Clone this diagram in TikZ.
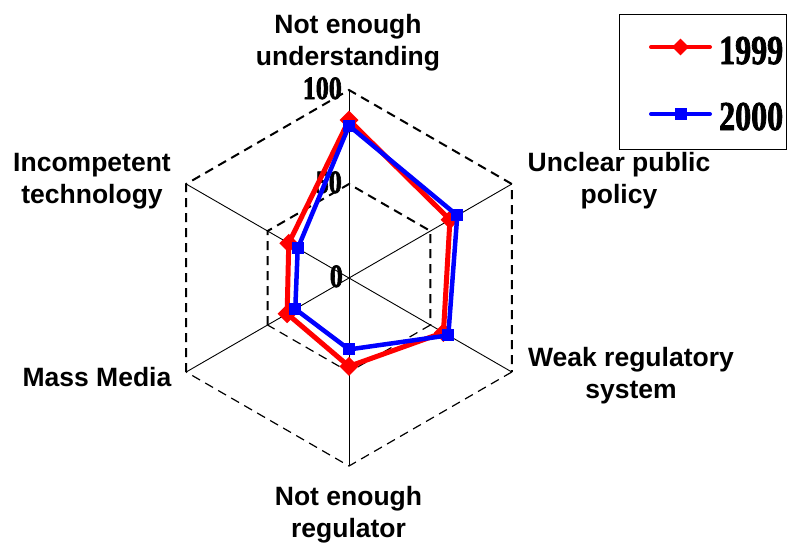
\documentclass[tikz,border=0pt]{standalone}
\usepackage{fontspec}
\usepackage{graphicx}
\setmainfont{Liberation Serif}
\setsansfont{Liberation Sans}
\newfontfamily\numfont[FakeBold=2.2]{Liberation Serif Bold}
\usetikzlibrary{shapes.geometric}
\begin{document}
\begin{tikzpicture}[x=1pt,y=-1pt,
  lab/.style={font=\sffamily\bfseries\fontsize{26.5}{32}\selectfont, align=center, anchor=base, inner sep=0},
  num/.style={font=\numfont\fontsize{32.5}{36}\selectfont, anchor=base east, inner sep=0},
  legtext/.style={font=\numfont\fontsize{41}{44}\selectfont, anchor=base west, inner sep=0},
  spoke/.style={line width=0.9pt},
  gridthick/.style={line width=2pt, dash pattern=on 9pt off 6pt},
  gridthin/.style={line width=1.2pt, dash pattern=on 9pt off 6pt},
  redline/.style={draw=red, line width=5pt, line join=round},
  blueline/.style={draw=blue, line width=4.5pt, line join=round},
  redmark/.style={diamond, fill=red, minimum size=19pt, inner sep=0},
  bluemark/.style={rectangle, fill=blue, minimum size=12pt, inner sep=0},
]
\useasboundingbox (0,0) rectangle (787,550);
\coordinate (C) at (349,278);
\begin{scope}[shift={(C)}]
  \foreach \a/\n in {-90/1,-30/2,30/3,90/4,150/5,210/6} {
    \coordinate (o\n) at (\a:188);
    \coordinate (m\n) at (\a:94);
  }
  % data 1999
  \foreach \a/\v/\n in {-90/84/1,-30/62/2,30/58/3,90/47/4,150/38/5,210/37/6} {
    \coordinate (r\n) at (\a:1.88*\v);
  }
  % data 2000
  \foreach \a/\v/\n in {-90/81/1,-30/66.5/2,30/61/3,90/38/4,150/33/5,210/31.5/6} {
    \coordinate (b\n) at (\a:1.88*\v);
  }
\end{scope}
% grid
\foreach \n in {1,...,6} { \draw[spoke] (C) -- (o\n); }
\draw[gridthick] (o5) -- (o6) -- (o1) -- (o2) -- (o3);
\draw[gridthin] (o3) -- (o4) -- (o5);
\draw[gridthick] (m5) -- (m6) -- (m1) -- (m2) -- (m3);
\draw[gridthin] (m3) -- (m4) -- (m5);
% axis labels
\node[num] (t100) at (342,99) {\scalebox{0.8}[1]{100}};
\node[num] (t50) at (342,193) {\scalebox{0.8}[1]{50}};
\node[num] (t0) at (343,287) {\scalebox{0.8}[1]{0}};
% series
\draw[redline] (r1) -- (r2) -- (r3) -- (r4) -- (r5) -- (r6) -- cycle;
\foreach \n in {1,...,6} { \node[redmark] (rm\n) at (r\n) {}; }
\draw[blueline] (b1) -- (b2) -- (b3) -- (b4) -- (b5) -- (b6) -- cycle;
\foreach \n in {1,...,6} { \node[bluemark] (bm\n) at (b\n) {}; }
% category labels (anchor base = baseline of last line)
\node[lab] (L1) at (348,65) {Not enough\\understanding};
\node[lab] (L2) at (619,203) {Unclear public\\policy};
\node[lab] (L3) at (631,398) {Weak regulatory\\system};
\node[lab] (L4) at (348.5,537) {Not enough\\regulator};
\node[lab] (L5) at (97,386) {Mass Media};
\node[lab] (L6) at (92,203) {Incompetent\\technology};
% legend
\node[draw, line width=1.3pt, minimum width=167pt, minimum height=135pt, anchor=north west, inner sep=0] (leg) at (619,14) {};
\coordinate (la1) at (651,47);
\coordinate (lb1) at (710,47);
\coordinate (la2) at (651,114);
\coordinate (lb2) at (710,114);
\draw[redline, line width=4pt, line cap=round] (la1) -- (lb1);
\node[redmark, minimum size=17pt] (lm1) at (680.5,47) {};
\draw[blueline, line width=4pt, line cap=round] (la2) -- (lb2);
\node[bluemark] (lm2) at (680.5,114) {};
\node[legtext] (y1999) at (719,64) {\scalebox{0.78}[1]{1999}};
\node[legtext] (y2000) at (719,130) {\scalebox{0.78}[1]{2000}};
\end{tikzpicture}
\end{document}
